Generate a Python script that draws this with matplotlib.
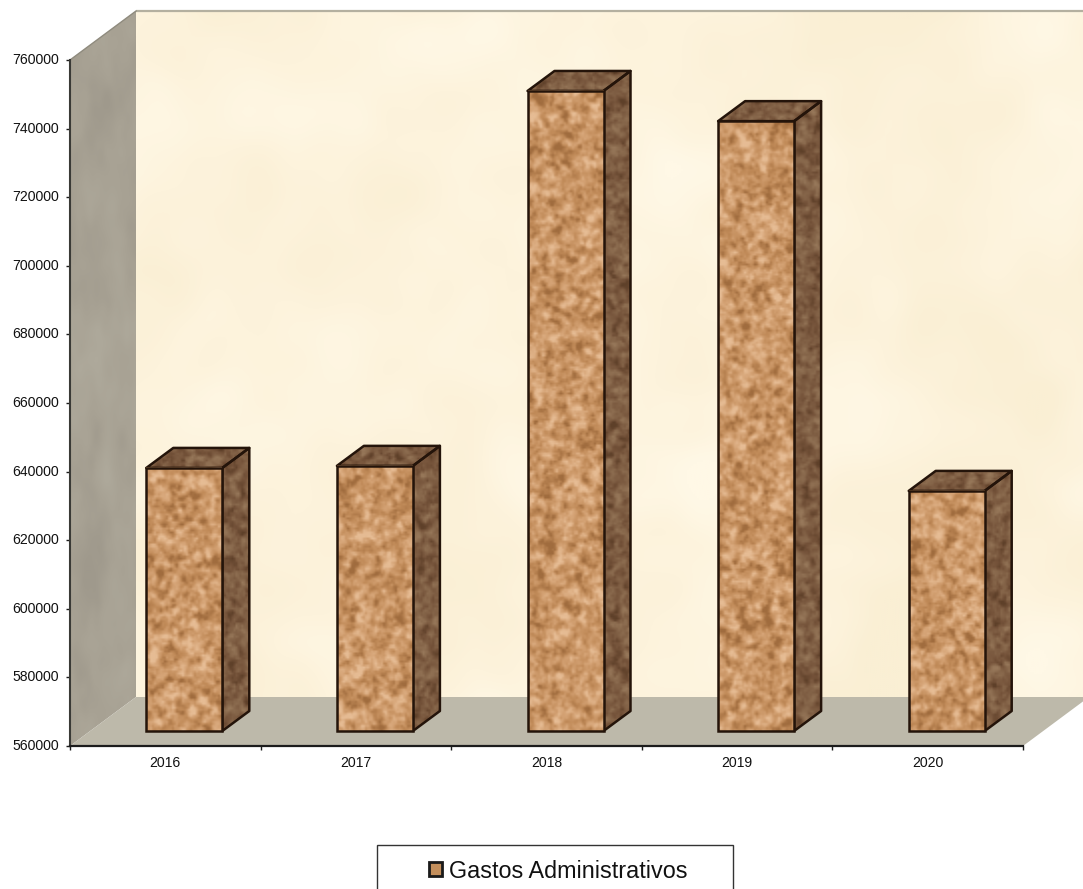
import numpy as np
import matplotlib
matplotlib.use("Agg")
import matplotlib.pyplot as plt
from matplotlib.patches import Polygon, Rectangle
from matplotlib.colors import LinearSegmentedColormap

categories = ["2016", "2017", "2018", "2019", "2020"]
gastos = [636700, 637300, 746600, 737800, 630000]
y_ticks = list(range(560000, 760001, 20000))
legend_label = "Gastos Administrativos"

W, H = 1083, 889
L, R, T, B = 70, 1023, 60, 746
plt.rcParams["font.family"] = ["Liberation Sans", "DejaVu Sans"]
fig = plt.figure(figsize=(W / 100, H / 100), dpi=100, facecolor="white")
ax = fig.add_axes([L / W, 1 - B / H, (R - L) / W, (B - T) / H])
ax.patch.set_visible(False)
y0, y1 = y_ticks[0], y_ticks[-1]
ax.set_xlim(0, len(categories))
ax.set_ylim(y0, y1)

# pixel-to-data scale for the pseudo-3D offsets
sx = len(categories) / (R - L)
sy = (y1 - y0) / (B - T)
wall_dx, wall_dy = 66 * sx, 49 * sy
bar_shift_x, bar_shift_y = 19 * sx, 15 * sy
bar_dx, bar_dy = 27 * sx, 20 * sy
bar_w = 76 * sx

rng = np.random.default_rng(7)


def smooth_noise(h, w, scale):
    n = rng.standard_normal((h, w))
    fy = np.fft.fftfreq(h)[:, None]
    fx = np.fft.rfftfreq(w)[None, :]
    f = np.exp(-2 * (np.pi * scale) ** 2 * (fx ** 2 + fy ** 2))
    out = np.fft.irfft2(np.fft.rfft2(n) * f, s=(h, w))
    return (out - out.mean()) / out.std()


def mottled(h, w, scales, weights, amp=0.22):
    t = sum(wt * smooth_noise(h, w, s) for s, wt in zip(scales, weights))
    return np.clip(0.5 + amp * t, 0, 1)


def textured_poly(pts, tex, cmap, z, edge=None, lw=0, vmin=0, vmax=1):
    pts = np.asarray(pts)
    p = Polygon(pts, closed=True, facecolor="none", edgecolor=edge if edge else "none",
                linewidth=lw, zorder=z + 0.1, clip_on=False, joinstyle="round")
    ax.add_patch(p)
    ext = [pts[:, 0].min(), pts[:, 0].max(), pts[:, 1].min(), pts[:, 1].max()]
    im = ax.imshow(tex, extent=ext, aspect="auto", cmap=cmap, vmin=vmin, vmax=vmax,
                   zorder=z, origin="lower", interpolation="bilinear")
    im.set_clip_box(fig.bbox)
    im.set_clip_path(p)
    return p


cork = LinearSegmentedColormap.from_list("cork", ["#a06c3e", "#c08a58", "#d4a274", "#e6bc94"])
cork_side = LinearSegmentedColormap.from_list("side", ["#5e4029", "#75533a", "#86664a", "#97785a"])
parch = LinearSegmentedColormap.from_list("parch", ["#faefd4", "#fdf3dc", "#fff8e6"])
wall_c = LinearSegmentedColormap.from_list("wall", ["#9f998c", "#a8a294", "#aea99b"])

# back wall, left wall, floor
back = [(wall_dx, y0 + wall_dy), (len(categories) + wall_dx, y0 + wall_dy),
        (len(categories) + wall_dx, y1 + wall_dy), (wall_dx, y1 + wall_dy)]
textured_poly(back, mottled(343, 480, [22, 8], [1, 0.4], amp=0.2), parch, 1)
ax.plot([wall_dx, len(categories) + wall_dx], [y1 + wall_dy] * 2, color="#b4b0a0",
        lw=1.6, zorder=1.5, clip_on=False, solid_capstyle="butt")

left = [(0, y0), (wall_dx, y0 + wall_dy), (wall_dx, y1 + wall_dy), (0, y1)]
textured_poly(left, mottled(300, 66, [9, 3], [1, 0.4], amp=0.16), wall_c, 1)
ax.plot([0, wall_dx], [y1, y1 + wall_dy], color="#8f8b7e", lw=1.0, zorder=1.5, clip_on=False)

floor = [(0, y0), (len(categories), y0), (len(categories) + wall_dx, y0 + wall_dy), (wall_dx, y0 + wall_dy)]
ax.add_patch(Polygon(floor, closed=True, facecolor="#bdb9aa", edgecolor="none", zorder=1, clip_on=False))

# bars
EDGE = "#24140a"
base = y0 + bar_shift_y
xs = np.arange(len(categories)) + 0.5 + bar_shift_x
bars = ax.bar(xs, np.array(gastos) - y0, bottom=base, width=bar_w, facecolor="none",
              edgecolor=EDGE, linewidth=1.8, zorder=3.1, clip_on=False)
for xc, val, bar in zip(xs, gastos, bars):
    x0, x1 = xc - bar_w / 2, xc + bar_w / 2
    top = val + bar_shift_y
    h_px = int((val - y0) / sy)
    front = mottled(h_px // 2, 38, [1.4, 0.6], [1, 0.6], amp=0.2)
    im = ax.imshow(front, extent=[x0, x1, base, top], aspect="auto", cmap=cork, vmin=0, vmax=1,
                   zorder=3, origin="lower", interpolation="bilinear")
    im.set_clip_box(fig.bbox)
    side = [(x1, base), (x1 + bar_dx, base + bar_dy), (x1 + bar_dx, top + bar_dy), (x1, top)]
    textured_poly(side, mottled(h_px // 2, 14, [1.2, 0.5], [1, 0.5], amp=0.18), cork_side, 2.5, EDGE, 1.8)
    roof = [(x0, top), (x1, top), (x1 + bar_dx, top + bar_dy), (x0 + bar_dx, top + bar_dy)]
    textured_poly(roof, mottled(12, 50, [1.2, 0.5], [1, 0.5], amp=0.18), cork_side, 2.5, EDGE, 1.8)

ax.set_xlim(0, len(categories))
ax.set_ylim(y0, y1)

# axes
for s in ("top", "right"):
    ax.spines[s].set_visible(False)
ax.spines["left"].set_color("#3a3a36")
ax.spines["bottom"].set_color("#1c1c1c")
ax.spines["left"].set_linewidth(1.5)
ax.spines["bottom"].set_linewidth(1.6)
for s in ax.spines.values():
    s.set_zorder(5)
ax.set_yticks(y_ticks)
ax.set_yticklabels([str(v) for v in y_ticks], fontsize=10.1, color="#111111", va="center")
for lab in ax.get_yticklabels():
    lab.set_y(lab.get_position()[1])
ax.set_xticks(np.arange(len(categories) + 1))
ax.set_xticklabels([])
ax.set_xticks(np.arange(len(categories)) + 0.5, minor=True)
ax.set_xticklabels(categories, minor=True, fontsize=10.1, color="#111111")
ax.tick_params(axis="y", length=3, width=1, color="#1c1c1c", pad=5)
ax.tick_params(axis="x", which="major", length=3, width=1, color="#1c1c1c")
ax.tick_params(axis="x", which="minor", length=0, pad=7)

# legend, whose frame runs off the bottom of the canvas
fig.add_artist(Rectangle((377 / W, -0.02), 356 / W, 1 - 845 / H + 0.02, transform=fig.transFigure,
                         facecolor="white", edgecolor="#333333", linewidth=1.0))
handle = Rectangle((0, 0), 1, 1, facecolor="#c48f5c", edgecolor="#1a1a1a", linewidth=2.0)
leg = fig.legend([handle], [legend_label], loc="center", bbox_to_anchor=(558 / W, 1 - 871 / H),
                 frameon=False, fontsize=16.85, handlelength=0.55, handleheight=0.55, handletextpad=0.3,
                 labelcolor="#111111")

fig.savefig("out.png", dpi=100, facecolor="white")
